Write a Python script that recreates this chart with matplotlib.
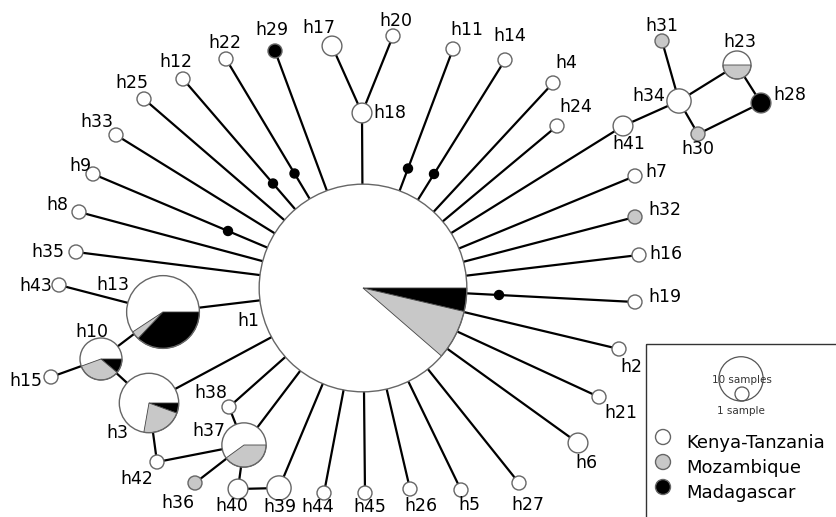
import matplotlib
matplotlib.use('Agg')
import matplotlib.pyplot as plt
from matplotlib.patches import Circle, Wedge, Rectangle
import numpy as np

# haplotype sample counts per region
haplotypes = ['h%d' % i for i in range(1, 46)]
kenya = [195, 1, 13, 1, 1, 2, 1, 1, 1, 5, 1, 1, 16, 1, 1, 1, 2, 2, 1, 1, 1, 1, 2,
         1, 1, 1, 1, 0, 0, 0, 0, 0, 1, 3, 1, 0, 6, 1, 3, 2, 2, 1, 1, 1, 1]
mozambique = [17, 0, 4, 0, 0, 0, 0, 0, 0, 3, 0, 0, 1, 0, 0, 0, 0, 0, 0, 0, 0, 0, 2,
              0, 0, 0, 0, 0, 0, 1, 1, 1, 0, 0, 0, 1, 4, 0, 0, 0, 0, 0, 0, 0, 0]
madagascar = [8, 0, 1, 0, 0, 0, 0, 0, 0, 1, 0, 0, 10, 0, 0, 0, 0, 0, 0, 0, 0, 0, 0,
              0, 0, 0, 0, 2, 1, 0, 0, 0, 0, 0, 0, 0, 0, 0, 0, 0, 0, 0, 0, 0, 0]

# links between haplotypes, last field = missing (median) haplotype on the link
links = [('h1', 'h2', 0), ('h1', 'h3', 0), ('h1', 'h4', 0), ('h1', 'h5', 0),
         ('h1', 'h6', 0), ('h1', 'h7', 0), ('h1', 'h8', 0), ('h1', 'h9', 1),
         ('h1', 'h11', 1), ('h1', 'h12', 1), ('h1', 'h13', 0), ('h1', 'h14', 1),
         ('h1', 'h16', 0), ('h1', 'h18', 0), ('h1', 'h19', 1), ('h1', 'h21', 0),
         ('h1', 'h22', 1), ('h1', 'h24', 0), ('h1', 'h25', 0), ('h1', 'h26', 0),
         ('h1', 'h27', 0), ('h1', 'h29', 0), ('h1', 'h32', 0), ('h1', 'h33', 0),
         ('h1', 'h35', 0), ('h1', 'h37', 0), ('h1', 'h38', 0), ('h1', 'h39', 0),
         ('h1', 'h41', 0), ('h1', 'h44', 0), ('h1', 'h45', 0),
         ('h17', 'h18', 0), ('h20', 'h18', 0), ('h13', 'h43', 0), ('h13', 'h10', 0),
         ('h10', 'h15', 0), ('h10', 'h3', 0), ('h3', 'h42', 0), ('h42', 'h37', 0),
         ('h37', 'h38', 0), ('h37', 'h36', 0), ('h37', 'h40', 0), ('h40', 'h39', 0),
         ('h41', 'h34', 0), ('h34', 'h31', 0), ('h34', 'h23', 0), ('h34', 'h30', 0),
         ('h23', 'h28', 0), ('h28', 'h30', 0)]

# network layout (pixel coordinates of the drawing)
layout = {
    'h1': (363, 288), 'h2': (619, 349), 'h3': (149, 403), 'h4': (553, 83),
    'h5': (461, 490), 'h6': (578, 443), 'h7': (635, 176), 'h8': (79, 212),
    'h9': (93, 174), 'h10': (101, 359), 'h11': (453, 49), 'h12': (183, 79),
    'h13': (163, 312), 'h14': (505, 60), 'h15': (51, 377), 'h16': (639, 255),
    'h17': (332, 46), 'h18': (362, 113), 'h19': (635, 302), 'h20': (393, 36),
    'h21': (599, 397), 'h22': (226, 59), 'h23': (737, 65), 'h24': (557, 126),
    'h25': (144, 99), 'h26': (410, 489), 'h27': (519, 483), 'h28': (761, 103),
    'h29': (275, 51), 'h30': (698, 134), 'h31': (662, 41), 'h32': (635, 217),
    'h33': (116, 135), 'h34': (679, 101), 'h35': (76, 252), 'h36': (195, 483),
    'h37': (244, 445), 'h38': (229, 407), 'h39': (279, 488), 'h40': (238, 489),
    'h41': (623, 126), 'h42': (157, 462), 'h43': (59, 285), 'h44': (324, 493),
    'h45': (365, 493),
}
label_pos = {
    'h1': (248, 321), 'h2': (631, 367), 'h3': (117, 433), 'h4': (566, 63),
    'h5': (469, 505), 'h6': (586, 463), 'h7': (656, 172), 'h8': (57, 205),
    'h9': (80, 166), 'h10': (92, 332), 'h11': (467, 30), 'h12': (176, 62),
    'h13': (113, 285), 'h14': (510, 36), 'h15': (26, 381), 'h16': (666, 254),
    'h17': (319, 28), 'h18': (390, 113), 'h19': (665, 297), 'h20': (396, 21),
    'h21': (621, 413), 'h22': (225, 43), 'h23': (740, 42), 'h24': (576, 107),
    'h25': (132, 83), 'h26': (421, 506), 'h27': (528, 505), 'h28': (790, 95),
    'h29': (272, 30), 'h30': (698, 149), 'h31': (662, 26), 'h32': (665, 210),
    'h33': (97, 122), 'h34': (649, 96), 'h35': (48, 252), 'h36': (178, 503),
    'h37': (209, 431), 'h38': (211, 393), 'h39': (280, 507), 'h40': (232, 506),
    'h41': (629, 144), 'h42': (137, 479), 'h43': (36, 286), 'h44': (318, 507),
    'h45': (370, 507),
}

regions = ['Kenya-Tanzania', 'Mozambique', 'Madagascar']
colors = ['#ffffff', '#c8c8c8', '#000000']
unit_r = 7.0  # radius of a one-sample circle


def radius(n):
    return unit_r * np.sqrt(n)


fig = plt.figure(figsize=(8.37, 5.17), dpi=100)
ax = fig.add_axes([0, 0, 1, 1])
ax.set_xlim(0, 837)
ax.set_ylim(517, 0)
ax.axis('off')

for a, b, mv in links:
    (x0, y0), (x1, y1) = layout[a], layout[b]
    ax.plot([x0, x1], [y0, y1], color='black', lw=1.6, zorder=1, solid_capstyle='butt')
    if mv:
        ax.add_patch(Circle(((x0 + x1) / 2, (y0 + y1) / 2), 4.5, color='black', zorder=2))

for i, h in enumerate(haplotypes):
    counts = [kenya[i], mozambique[i], madagascar[i]]
    total = sum(counts)
    r = radius(total)
    c = layout[h]
    ax.add_patch(Circle(c, r, facecolor='white', edgecolor='none', zorder=3))
    # black first, then gray, clockwise from the right (y axis is flipped)
    start = 0.0
    for k in [2, 1]:
        if counts[k] == 0:
            continue
        span = 360.0 * counts[k] / total
        if span >= 359.9:
            ax.add_patch(Circle(c, r, facecolor=colors[k], edgecolor='none', zorder=4))
        else:
            ax.add_patch(Wedge(c, r, start, start + span, facecolor=colors[k],
                               edgecolor='#444444', lw=0.6, zorder=4))
        start += span
    ax.add_patch(Circle(c, r, facecolor='none', edgecolor='#666666', lw=1.0, zorder=5))
    lx, ly = label_pos[h]
    ax.text(lx, ly, h, fontsize=12.5, ha='center', va='center', zorder=6)

# legend
ax.add_patch(Rectangle((646, 344), 300, 300, fill=False, edgecolor='#333333', lw=1.0, zorder=5))
r10 = radius(10)
ax.add_patch(Circle((741, 401 - r10), r10, facecolor='none', edgecolor='#555555', lw=0.9, zorder=5))
ax.add_patch(Circle((742, 401 - unit_r), unit_r, facecolor='none', edgecolor='#555555', lw=0.9, zorder=5))
ax.text(742, 380, '10 samples', fontsize=7.5, ha='center', va='center', color='#333333', zorder=6)
ax.text(741, 411, '1 sample', fontsize=7.5, ha='center', va='center', color='#333333', zorder=6)
for k, name in enumerate(regions):
    y = 437 + k * 25
    ax.add_patch(Circle((663, y), 7.5, facecolor=colors[k], edgecolor='#666666', lw=1.0, zorder=5))
    ax.text(686, y + 6, name, fontsize=13, ha='left', va='center', zorder=6)

plt.savefig('out.png', dpi=100)
plt.close()
